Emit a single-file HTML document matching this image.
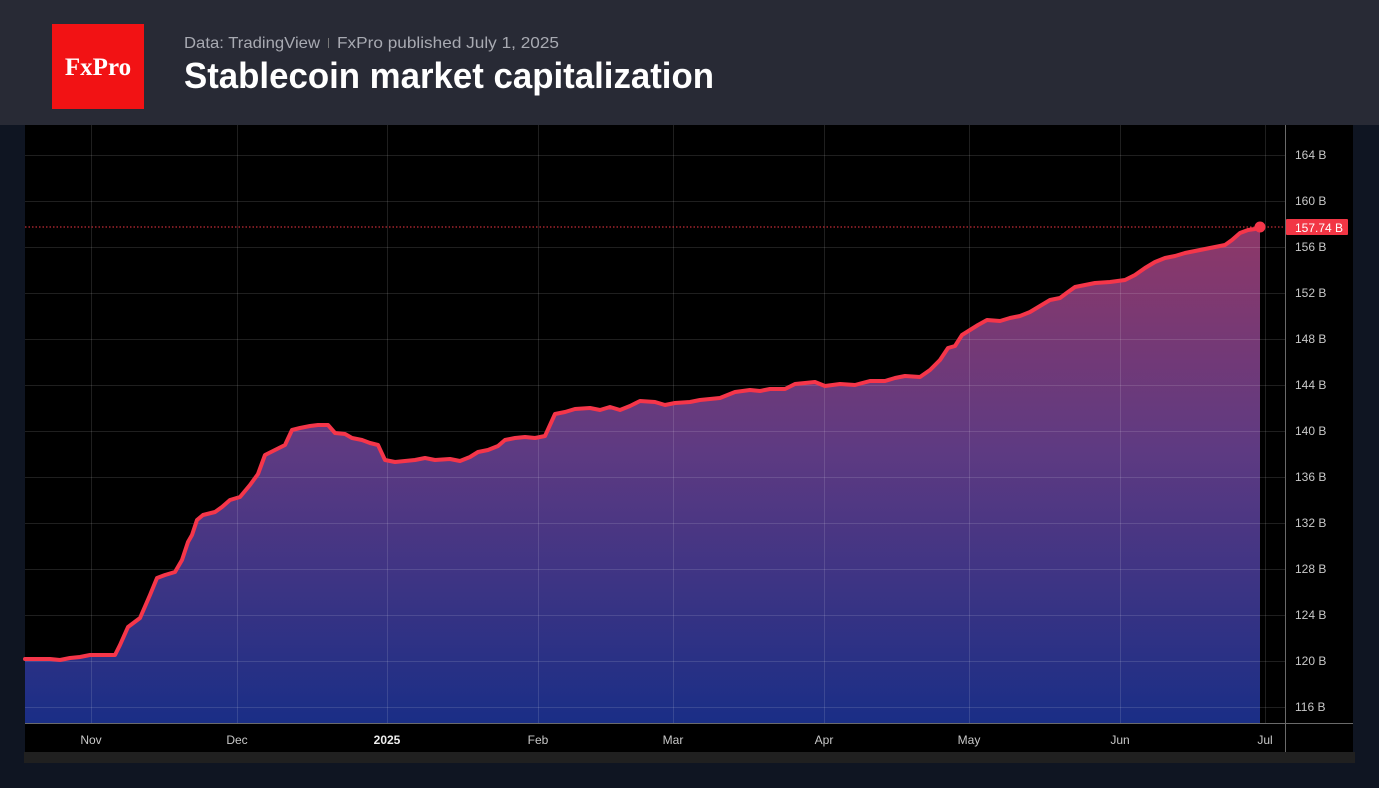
<!DOCTYPE html>
<html><head><meta charset="utf-8"><style>
body{margin:0;width:1379px;height:788px;background:#0f1522;overflow:hidden;font-family:"Liberation Sans",sans-serif;}
</style></head><body>
<svg width="1379" height="788" xmlns="http://www.w3.org/2000/svg" style="position:absolute;left:0;top:0">
<defs>
<linearGradient id="g" gradientUnits="userSpaceOnUse" x1="0" y1="227" x2="0" y2="723">
<stop offset="0" stop-color="#8e3868"/>
<stop offset="0.45" stop-color="#5e3a82"/>
<stop offset="1" stop-color="#1a2e86"/>
</linearGradient>
</defs>
<rect x="0" y="0" width="1379" height="125" fill="#282a35"/>
<rect x="52" y="24" width="92" height="85" fill="#f21214"/>
<text x="98" y="75" fill="#fff" font-family="Liberation Serif,serif" font-size="25" font-weight="bold" text-anchor="middle">FxPro</text>
<text x="184" y="48" fill="#a8aab2" font-size="16" textLength="136" lengthAdjust="spacingAndGlyphs">Data: TradingView</text>
<rect x="328" y="38" width="1" height="10" fill="#777"/>
<text x="337" y="48" fill="#a8aab2" font-size="16" textLength="222" lengthAdjust="spacingAndGlyphs">FxPro published  July 1, 2025</text>
<text x="184" y="88" fill="#fff" font-size="36" font-weight="bold" textLength="530" lengthAdjust="spacingAndGlyphs">Stablecoin market capitalization</text>
<rect x="24" y="752" width="1331" height="11" fill="#202020"/>
<rect x="25" y="125" width="1328" height="627" fill="#000"/>
<path id="p" d="M25,659 L50,659 L60,660 L70,658 L80,657 L90,655 L115,655 L120,645 L128,627 L140,618 L150,595 L157,578 L165,575 L175,572 L182,560 L188,542 L192,535 L197,520 L203,515 L215,512 L222,507 L230,500 L240,497 L250,485 L258,474 L265,455 L275,450 L285,445 L292,430 L300,428 L310,426 L318,425 L328,425 L335,433 L345,434 L352,438 L362,440 L370,443 L378,445 L385,460 L395,462 L405,461 L415,460 L425,458 L435,460 L450,459 L460,461 L470,457 L478,452 L488,450 L498,446 L505,440 L515,438 L525,437 L535,438 L545,436 L555,414 L565,412 L575,409 L590,408 L600,410 L610,407 L620,410 L630,406 L640,401 L655,402 L665,405 L675,403 L690,402 L700,400 L720,398 L735,392 L750,390 L760,391 L770,389 L785,389 L795,384 L815,382 L825,386 L840,384 L855,385 L870,381 L885,381 L895,378 L905,376 L920,377 L930,370 L940,360 L948,348 L955,346 L962,335 L970,330 L978,325 L987,320 L1000,321 L1010,318 L1020,316 L1030,312 L1040,306 L1050,300 L1060,298 L1068,292 L1075,287 L1085,285 L1095,283 L1110,282 L1125,280 L1135,275 L1145,268 L1155,262 L1165,258 L1175,256 L1185,253 L1195,251 L1205,249 L1215,247 L1225,245 L1232,240 L1240,233 L1248,230 L1255,229 L1260,227" fill="none"/>
<path d="M25,659 L50,659 L60,660 L70,658 L80,657 L90,655 L115,655 L120,645 L128,627 L140,618 L150,595 L157,578 L165,575 L175,572 L182,560 L188,542 L192,535 L197,520 L203,515 L215,512 L222,507 L230,500 L240,497 L250,485 L258,474 L265,455 L275,450 L285,445 L292,430 L300,428 L310,426 L318,425 L328,425 L335,433 L345,434 L352,438 L362,440 L370,443 L378,445 L385,460 L395,462 L405,461 L415,460 L425,458 L435,460 L450,459 L460,461 L470,457 L478,452 L488,450 L498,446 L505,440 L515,438 L525,437 L535,438 L545,436 L555,414 L565,412 L575,409 L590,408 L600,410 L610,407 L620,410 L630,406 L640,401 L655,402 L665,405 L675,403 L690,402 L700,400 L720,398 L735,392 L750,390 L760,391 L770,389 L785,389 L795,384 L815,382 L825,386 L840,384 L855,385 L870,381 L885,381 L895,378 L905,376 L920,377 L930,370 L940,360 L948,348 L955,346 L962,335 L970,330 L978,325 L987,320 L1000,321 L1010,318 L1020,316 L1030,312 L1040,306 L1050,300 L1060,298 L1068,292 L1075,287 L1085,285 L1095,283 L1110,282 L1125,280 L1135,275 L1145,268 L1155,262 L1165,258 L1175,256 L1185,253 L1195,251 L1205,249 L1215,247 L1225,245 L1232,240 L1240,233 L1248,230 L1255,229 L1260,227 L1260,723 L25,723 Z" fill="url(#g)"/>
<g stroke="#ffffff" stroke-opacity="0.12" stroke-width="1">
<line x1="25" x2="1285" y1="155.5" y2="155.5"/><line x1="25" x2="1285" y1="201.5" y2="201.5"/><line x1="25" x2="1285" y1="247.5" y2="247.5"/><line x1="25" x2="1285" y1="293.5" y2="293.5"/><line x1="25" x2="1285" y1="339.5" y2="339.5"/><line x1="25" x2="1285" y1="385.5" y2="385.5"/><line x1="25" x2="1285" y1="431.5" y2="431.5"/><line x1="25" x2="1285" y1="477.5" y2="477.5"/><line x1="25" x2="1285" y1="523.5" y2="523.5"/><line x1="25" x2="1285" y1="569.5" y2="569.5"/><line x1="25" x2="1285" y1="615.5" y2="615.5"/><line x1="25" x2="1285" y1="661.5" y2="661.5"/><line x1="25" x2="1285" y1="707.5" y2="707.5"/>
<line x1="91.5" x2="91.5" y1="125" y2="723"/><line x1="237.5" x2="237.5" y1="125" y2="723"/><line x1="387.5" x2="387.5" y1="125" y2="723"/><line x1="538.5" x2="538.5" y1="125" y2="723"/><line x1="673.5" x2="673.5" y1="125" y2="723"/><line x1="824.5" x2="824.5" y1="125" y2="723"/><line x1="969.5" x2="969.5" y1="125" y2="723"/><line x1="1120.5" x2="1120.5" y1="125" y2="723"/><line x1="1265.5" x2="1265.5" y1="125" y2="723"/>
</g>
<line x1="25" x2="1285" y1="227" y2="227" stroke="#f23645" stroke-width="1" stroke-dasharray="1.5,2"/>
<use href="#p" stroke="#f5364a" stroke-width="4" stroke-linejoin="round" stroke-linecap="round"/>
<circle cx="1260" cy="227" r="5.5" fill="#f5364a"/>
<line x1="25" x2="1353" y1="723.5" y2="723.5" stroke="#6a6a6a"/>
<line x1="1285.5" x2="1285.5" y1="125" y2="752" stroke="#6a6a6a"/>
<g fill="#c8c8c8" font-size="12">
<text x="1295" y="159">164 B</text><text x="1295" y="205">160 B</text><text x="1295" y="251">156 B</text><text x="1295" y="297">152 B</text><text x="1295" y="343">148 B</text><text x="1295" y="389">144 B</text><text x="1295" y="435">140 B</text><text x="1295" y="481">136 B</text><text x="1295" y="527">132 B</text><text x="1295" y="573">128 B</text><text x="1295" y="619">124 B</text><text x="1295" y="665">120 B</text><text x="1295" y="711">116 B</text>
</g>
<rect x="1286" y="219" width="62" height="16" rx="1" fill="#f23645"/>
<text x="1295" y="232" fill="#fff" font-size="12">157.74 B</text>
<g fill="#c8c8c8" font-size="12" text-anchor="middle">
<text x="91" y="744">Nov</text><text x="237" y="744">Dec</text><text x="387" y="744" font-weight="bold" fill="#eee">2025</text><text x="538" y="744">Feb</text><text x="673" y="744">Mar</text><text x="824" y="744">Apr</text><text x="969" y="744">May</text><text x="1120" y="744">Jun</text><text x="1265" y="744">Jul</text>
</g>
</svg>
</body></html>
